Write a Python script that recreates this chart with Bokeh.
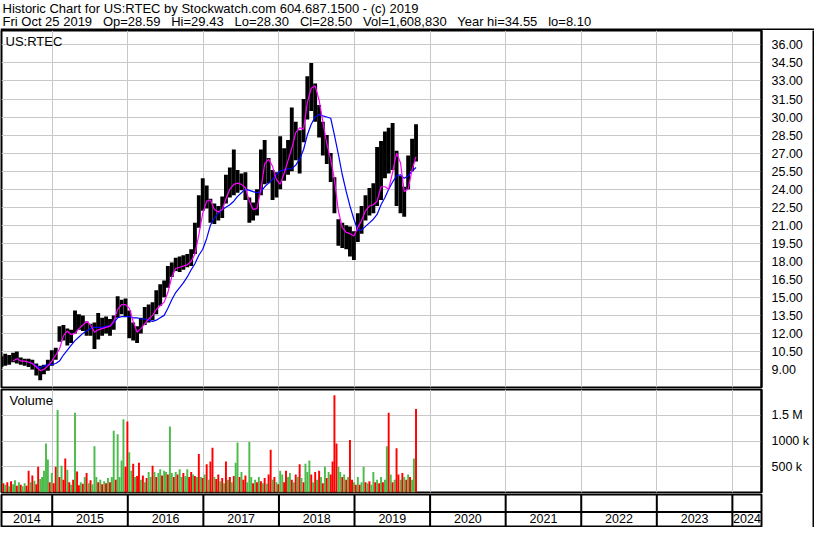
import numpy as np
import pandas as pd
from bokeh.plotting import figure
from bokeh.layouts import column, row
from bokeh.models import Range1d, FixedTicker, Label, Span, NumeralTickFormatter
from bokeh.core.properties import value
from bokeh.embed import file_html
from bokeh.resources import INLINE

FONT = "Liberation Sans"
NA = float("nan")
GAP = "\u00a0\u00a0 "

TITLE_1 = "Historic Chart for US:RTEC by Stockwatch.com 604.687.1500 - (c) 2019"
TITLE_2 = GAP.join(["Fri Oct 25 2019", "Op=28.59", "Hi=29.43", "Lo=28.30", "Cl=28.50",
                    "Vol=1,608,830", "Year hi=34.55", "lo=8.10"])
SYMBOL = "US:RTEC"
VOLUME_TITLE = "Volume"

FIRST_DATE = "2014-05-01"
LAST_DATE = "2019-10-25"
AXIS_START = "2014-05-01"
AXIS_END = "2024-05-21"
YEARS = [2014, 2015, 2016, 2017, 2018, 2019, 2020, 2021, 2022, 2023, 2024]
YEAR_LABELS = ["2014", "2015", "2016", "2017", "2018", "2019", "2020", "2021", "2022", "2023", "2024"]

PRICE_TICKS = [9.0, 10.5, 12.0, 13.5, 15.0, 16.5, 18.0, 19.5, 21.0, 22.5, 24.0,
               25.5, 27.0, 28.5, 30.0, 31.5, 33.0, 34.5, 36.0]
VOLUME_TICKS = [500000, 1000000, 1500000]
VOLUME_TICK_LABELS = ["500 k", "1000 k", "1.5 M"]

# price range (low / high) sampled along the time span
PRICE_LOW = [9.2, 9.3, 9.4, 9.6, 9.5, 9.4, 9.3, 9.2, 9.0, 8.5,
             8.1, 8.6, 8.9, 9.3, 9.8, 11.3, 11.4, 11.0, 11.2, 12.0,
             12.3, 12.2, 11.8, 11.8, 10.7, 11.5, 11.8, 12.0, 11.8, 12.3,
             13.3, 13.6, 13.4, 11.6, 11.4, 11.2, 12.0, 12.7, 12.9, 13.1,
             13.6, 14.3, 15.0, 15.8, 16.7, 17.2, 17.1, 17.3, 17.5, 17.6,
             18.6, 20.8, 22.2, 22.4, 21.2, 21.1, 21.4, 21.6, 22.8, 23.3,
             23.5, 23.7, 23.9, 23.1, 21.2, 21.4, 21.8, 23.5, 24.4, 24.5,
             23.1, 23.3, 24.0, 24.7, 25.2, 25.5, 26.4, 25.3, 27.9, 29.8,
             30.5, 29.6, 28.3, 26.8, 26.1, 24.6, 22.0, 19.3, 19.1, 19.0,
             18.4, 18.1, 19.6, 20.3, 21.4, 21.8, 22.0, 22.6, 23.1, 24.9,
             25.3, 25.6, 22.6, 22.0, 21.7, 24.0, 25.5, 26.3]
PRICE_HIGH = [10.1, 10.3, 10.2, 10.4, 10.5, 10.0, 9.9, 9.9, 9.8, 9.5,
              9.3, 9.4, 9.8, 10.6, 10.8, 12.6, 12.7, 12.4, 12.3, 13.9,
              13.6, 13.5, 13.0, 12.8, 12.9, 13.7, 13.3, 13.4, 13.2, 13.5,
              15.1, 14.8, 14.9, 13.9, 12.9, 12.6, 13.3, 14.2, 14.4, 14.6,
              15.6, 16.1, 16.4, 17.6, 17.9, 18.3, 18.4, 18.5, 18.6, 19.0,
              21.2, 23.5, 24.9, 24.3, 23.2, 22.8, 22.6, 23.4, 25.2, 25.8,
              27.3, 25.6, 25.3, 25.4, 23.3, 22.9, 24.0, 27.3, 28.1, 26.6,
              25.6, 25.4, 28.4, 27.4, 28.1, 30.8, 29.6, 28.9, 31.5, 33.4,
              34.5, 32.8, 31.0, 29.6, 28.5, 27.0, 25.0, 21.5, 21.2, 21.0,
              20.9, 20.5, 22.0, 22.6, 23.5, 24.1, 24.5, 27.5, 28.0, 28.8,
              29.1, 29.5, 27.2, 25.1, 24.2, 26.8, 28.2, 29.4]
# short moving average (magenta)
MA_FAST = [NA, NA, NA, 9.7, 9.9, 9.7, 9.7, 9.6, 9.5, 9.2,
           8.9, 9.0, 9.3, 9.7, 10.2, 10.7, 11.8, 12.2, 11.9, 12.0,
           12.4, 12.7, 13.0, 12.7, 12.1, 12.3, 12.4, 12.5, 12.6, 13.0,
           14.0, 14.4, 14.4, 14.1, 13.0, 12.1, 12.4, 12.8, 13.2, 13.5,
           14.0, 14.3, 14.6, 15.4, 16.7, 17.4, 17.5, 17.6, 17.7, 18.0,
           18.6, 20.2, 22.0, 23.0, 23.1, 22.3, 22.1, 22.3, 23.2, 24.0,
           24.4, 24.5, 24.4, 24.1, 23.0, 22.3, 22.4, 24.0, 26.1, 26.5,
           25.9, 24.8, 24.4, 25.3, 26.4, 27.4, 28.7, 29.1, 29.0, 31.2,
           32.4, 32.6, 31.4, 29.6, 27.8, 26.5, 24.8, 22.2, 20.8, 20.4,
           20.3, 20.1, 20.8, 21.4, 22.2, 22.6, 22.7, 23.0, 24.2, 24.2,
           24.0, 25.4, 27.0, 26.2, 23.8, 24.0, 25.6, 26.7]
# long moving average (blue)
MA_SLOW = [NA, NA, NA, NA, NA, NA, NA, 9.6, 9.5, 9.3,
           9.1, 9.3, 9.4, 9.4, 9.5, 9.7, 10.2, 10.6, 11.0, 11.4,
           11.7, 12.0, 12.2, 12.4, 12.5, 12.5, 12.5, 12.6, 12.6, 12.9,
           13.3, 13.4, 13.4, 13.4, 13.3, 13.3, 13.2, 13.2, 13.1, 13.0,
           13.1, 13.3, 13.5, 14.1, 14.8, 15.4, 15.8, 16.2, 16.7, 17.3,
           17.8, 18.5, 19.0, 19.9, 21.0, 21.6, 22.0, 22.3, 22.5, 22.7,
           23.0, 23.4, 23.7, 24.0, 23.9, 23.8, 23.7, 23.8, 24.2, 24.5,
           24.8, 25.2, 25.5, 25.6, 25.7, 25.7, 26.0, 26.5, 27.3, 28.5,
           29.4, 30.0, 30.2, 30.1, 30.0, 29.9, 28.5, 26.9, 25.2, 23.8,
           22.6, 21.5, 20.6, 20.6, 20.9, 21.2, 21.5, 21.9, 22.7, 23.3,
           24.0, 24.6, 25.1, 25.2, 24.9, 25.1, 25.5, 25.8]

# volume in thousands of shares, and direction of the day (G = up, R = down)
VOLUME_K = [250, 180, 150, 200, 120, 220, 160, 240, 130, 200,
            150, 120, 180, 130, 420, 200, 330, 230, 160, 500,
            260, 300, 420, 950, 640, 200, 380, 180, 500, 1600,
            300, 520, 250, 660, 440, 200, 150, 250, 1550, 410,
            140, 200, 170, 300, 380, 180, 240, 160, 900, 300,
            200, 250, 160, 220, 180, 280, 200, 300, 1200, 250,
            1130, 300, 620, 1420, 500, 1380, 780, 420, 560, 300,
            320, 580, 250, 330, 200, 280, 400, 300, 520, 400,
            300, 380, 450, 330, 420, 400, 350, 1280, 380, 300,
            400, 350, 450, 300, 380, 320, 450, 300, 400, 350,
            320, 300, 750, 300, 280, 350, 550, 250, 600, 870,
            300, 260, 350, 220, 280, 180, 600, 250, 300, 200,
            320, 580, 970, 300, 400, 250, 330, 200, 980, 300,
            180, 250, 200, 300, 220, 180, 280, 170, 350, 830,
            250, 300, 200, 160, 420, 350, 200, 420, 300, 380,
            250, 200, 350, 300, 550, 280, 200, 560, 400, 620,
            350, 200, 400, 250, 420, 300, 180, 500, 280, 400,
            350, 600, 1890, 950, 500, 400, 300, 350, 250, 300,
            1020, 250, 200, 150, 300, 150, 200, 500, 200, 180,
            220, 150, 400, 200, 250, 180, 300, 200, 250, 900,
            1550, 350, 200, 250, 860, 350, 250, 380, 300, 250,
            350, 300, 250, 660, 1620]
VOLUME_DIR = ("GRGRGRGGRG" "RGGRRGRGRR" "GGGGGRGRRG" "RGRRGRGRGR" "RGRGRGRGGG"
              "RGRGRGRGGR" "GGGGRRGGRG" "RRGRGRGGRG" "RGGRGGRGGR" "GRGGRGGRRG"
              "RGRGRGRGRR" "GRRGRGRGRG" "RGGRGRRGGG" "RGRGRGRGRR" "GRGRGGRRGG"
              "RGRGRGRGGG" "RGRGRGRGRG" "RRRRGGRGRG" "RRGRGRGGRG" "RGGRGRGRGG"
              "RGRGRRGRGR" "GRGGR")

COLOR_UP = "#4cbb4c"
COLOR_DOWN = "#ff0000"
GRID = "#c8c8c8"


def frac_year(idx):
    idx = pd.DatetimeIndex(idx)
    days = np.where(idx.is_leap_year, 366.0, 365.0)
    return np.asarray(idx.year, dtype=float) + (np.asarray(idx.dayofyear, dtype=float) - 1.0) / days


price_t = frac_year(pd.date_range(FIRST_DATE, LAST_DATE, periods=len(PRICE_HIGH)))
vol_t = frac_year(pd.date_range(FIRST_DATE, LAST_DATE, periods=len(VOLUME_K)))
x_start = frac_year([AXIS_START])[0]
x_end = frac_year([AXIS_END])[0]
year_starts = [float(y) for y in YEARS if x_start < y < x_end]
label_x = [(max(y, x_start) + min(y + 1, x_end)) / 2.0 for y in YEARS]

price_w = float(np.diff(price_t).mean())
vol_w = float(np.diff(vol_t).mean())
volume = [v * 1000 for v in VOLUME_K]
vol_colors = [COLOR_UP if d == "G" else COLOR_DOWN for d in VOLUME_DIR]

W_PANEL = 812
RIGHT_COL = 45
x_range = Range1d(x_start, x_end)


def panel(height, y_range, top=1, bottom=1):
    f = figure(width=W_PANEL, height=height, x_range=x_range, y_range=y_range,
               x_axis_location=None, y_axis_location="right",
               toolbar_location=None, output_backend="svg",
               min_border_left=1, min_border_right=RIGHT_COL,
               min_border_top=top, min_border_bottom=bottom)
    f.outline_line_color = "black"
    f.outline_line_width = 2
    f.background_fill_color = "white"
    f.border_fill_color = "white"
    ax = f.yaxis[0]
    ax.axis_line_color = "black"
    ax.axis_line_width = 2
    ax.major_tick_line_color = None
    ax.minor_tick_line_color = None
    ax.major_label_text_font = FONT
    ax.major_label_text_font_size = "12.5px"
    ax.major_label_text_color = "black"
    ax.major_label_standoff = 4
    f.xgrid.ticker = FixedTicker(ticks=year_starts)
    f.xgrid.grid_line_color = GRID
    f.ygrid.grid_line_color = GRID
    return f


# ---- title
pt = figure(width=814, height=30, x_range=Range1d(0, 814), y_range=Range1d(0, 30),
            x_axis_location=None, y_axis_location=None, toolbar_location=None,
            output_backend="svg", min_border=0)
pt.outline_line_color = None
pt.grid.visible = False
pt.text(x=[2, 2], y=[22.2, 8.6], text=[TITLE_1, TITLE_2], text_baseline="middle",
        text_font=value(FONT), text_font_size="13px", text_color="black")
pt.add_layout(Span(location=1.0, dimension="width", line_color="black", line_width=2))

# ---- price
pp = panel(358, Range1d(7.5, 37.2), top=0, bottom=1)
pp.yaxis.ticker = FixedTicker(ticks=PRICE_TICKS)
pp.yaxis.formatter = NumeralTickFormatter(format="0.00")
pp.vbar(x=price_t, width=price_w, bottom=PRICE_LOW, top=PRICE_HIGH,
        fill_color="black", line_color=None)
pp.line(price_t, MA_SLOW, line_color="#0000ff", line_width=1.2)
pp.line(price_t, MA_FAST, line_color="#ff00ff", line_width=1.2)
pp.add_layout(Label(x=x_start, y=37.2, x_offset=4, y_offset=-3, text=SYMBOL,
                    text_baseline="top", text_font=FONT, text_font_size="13px",
                    text_color="black"))

# ---- volume
pv = panel(105, Range1d(0, 2.0e6))
pv.yaxis.ticker = FixedTicker(ticks=VOLUME_TICKS)
pv.yaxis.major_label_overrides = dict(zip(VOLUME_TICKS, VOLUME_TICK_LABELS))
pv.vbar(x=vol_t, width=vol_w, bottom=0, top=volume, fill_color=vol_colors, line_color=None)
pv.add_layout(Label(x=x_start, y=2.0e6, x_offset=8, y_offset=-3, text=VOLUME_TITLE,
                    text_baseline="top", text_font=FONT, text_font_size="13px",
                    text_color="black"))

# ---- date strip
pd_ = figure(width=W_PANEL, height=34, x_range=x_range, y_range=Range1d(0, 1),
             x_axis_location=None, y_axis_location=None, toolbar_location=None,
             output_backend="svg", min_border_left=1, min_border_right=RIGHT_COL,
             min_border_top=1, min_border_bottom=1)
pd_.outline_line_color = "black"
pd_.outline_line_width = 2
pd_.grid.visible = False
pd_.add_layout(Span(location=0.45, dimension="width", line_color="black", line_width=2))
for y in year_starts:
    pd_.add_layout(Span(location=y, dimension="height", line_color="black", line_width=2))
pd_.text(x=label_x, y=[0.25] * len(label_x), text=YEAR_LABELS, text_align="center",
         text_baseline="middle", text_font=value(FONT), text_font_size="12.5px",
         text_color="black")

# ---- right border strip
ps = figure(width=2, height=358 + 105 + 34, toolbar_location=None, output_backend="svg",
            x_axis_location=None, y_axis_location=None, min_border=0)
ps.background_fill_color = "black"
ps.border_fill_color = "black"
ps.outline_line_color = None
ps.grid.visible = False

layout = column(pt, row(column(pp, pv, pd_), ps))

with open("out.html", "w") as fh:
    fh.write(file_html(layout, INLINE))
